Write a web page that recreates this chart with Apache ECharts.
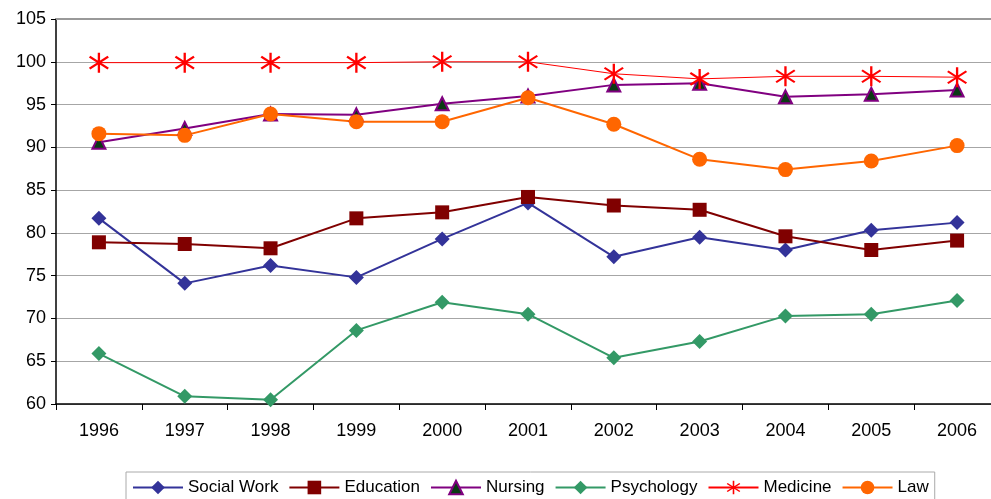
<!DOCTYPE html>
<html>
<head>
<meta charset="utf-8">
<script src="https://cdn.jsdelivr.net/npm/echarts@6/dist/echarts.min.js"></script>
<style>
  html, body { margin: 0; padding: 0; background: #fff; }
  #chart { width: 991px; height: 499px; }
</style>
</head>
<body>
<div id="chart"></div>
<script>
const years = ['1996', '1997', '1998', '1999', '2000', '2001', '2002', '2003', '2004', '2005', '2006'];
const socialWork = [81.7, 74.1, 76.2, 74.8, 79.3, 83.5, 77.2, 79.5, 78.0, 80.3, 81.2];
const education  = [78.9, 78.7, 78.2, 81.7, 82.4, 84.2, 83.2, 82.7, 79.6, 78.0, 79.1];
const nursing    = [90.6, 92.2, 93.9, 93.8, 95.1, 96.0, 97.3, 97.5, 95.9, 96.2, 96.7];
const psychology = [65.9, 60.9, 60.5, 68.6, 71.9, 70.5, 65.4, 67.3, 70.3, 70.5, 72.1];
const medicine   = [99.9, 99.9, 99.9, 99.9, 100.0, 100.0, 98.6, 98.0, 98.3, 98.3, 98.2];
const law        = [91.6, 91.4, 93.9, 93.0, 93.0, 95.8, 92.7, 88.6, 87.4, 88.4, 90.2];

const font = '"Liberation Sans", Arial, sans-serif';

// six-armed asterisk for the Medicine markers
const asterisk = 'path://M9,0L11,0L11,20L9,20Z' +
  'M2.6,3.2L18.6,15.2L17.4,16.8L1.4,4.8Z' +
  'M1.4,15.2L17.4,3.2L18.6,4.8L2.6,16.8Z';

const lineSeries = (name, data, color, symbol, size, extra) => Object.assign({
  name: name,
  type: 'line',
  data: data,
  symbol: symbol,
  symbolSize: size,
  showAllSymbol: true,
  lineStyle: { color: color, width: 2 },
  itemStyle: { color: color },
  emphasis: { disabled: true },
  animation: false
}, extra || {});

const myChart = echarts.init(document.getElementById('chart'));
myChart.setOption({
  backgroundColor: '#fff',
  textStyle: { fontFamily: font },
  // plot area runs a little past the right edge of the picture
  grid: { left: 56, top: 19, right: -9, bottom: 95, outerBoundsMode: 'none' },
  legend: {
    left: 126,
    top: 472,
    padding: [7, 6, 20, 6],
    itemWidth: 50,
    itemHeight: 17,
    itemGap: 10,
    borderColor: '#aaa',
    borderWidth: 1,
    textStyle: { fontFamily: font, fontSize: 17, color: '#000' },
    data: ['Social Work', 'Education', 'Nursing', 'Psychology', 'Medicine', 'Law']
  },
  xAxis: [{
    type: 'category',
    data: years,
    boundaryGap: true,
    axisLine: { lineStyle: { color: '#000', width: 1.5 } },
    axisTick: { show: true, length: 6, inside: false, lineStyle: { color: '#000' } },
    axisLabel: { fontFamily: font, fontSize: 18, color: '#000', margin: 18 },
    splitLine: { show: false }
  }, {
    type: 'category',
    data: years,
    position: 'top',
    axisLine: { lineStyle: { color: '#999', width: 2 } },
    axisTick: { show: false },
    axisLabel: { show: false }
  }],
  yAxis: {
    type: 'value',
    min: 60,
    max: 105,
    interval: 5,
    axisLine: { show: true, lineStyle: { color: '#000', width: 1.5 } },
    axisTick: { show: true, length: 5, lineStyle: { color: '#000' } },
    axisLabel: { fontFamily: font, fontSize: 18, color: '#000', margin: 10 },
    splitLine: { lineStyle: { color: '#a6a6a6', width: 1 } }
  },
  series: [
    lineSeries('Social Work', socialWork, '#333399', 'diamond', 15),
    lineSeries('Education', education, '#800000', 'rect', 14),
    lineSeries('Nursing', nursing, '#800080', 'triangle', 13, {
      itemStyle: { color: '#0a3a14', borderColor: '#800080', borderWidth: 2 }
    }),
    lineSeries('Psychology', psychology, '#339966', 'diamond', 15),
    lineSeries('Medicine', medicine, '#ff0000', asterisk, [20, 20], {
      lineStyle: { color: '#ff0000', width: 1 }
    }),
    lineSeries('Law', law, '#ff6600', 'circle', 15)
  ]
});
window.addEventListener('resize', () => {
  myChart.resize();
});
</script>
</body>
</html>
